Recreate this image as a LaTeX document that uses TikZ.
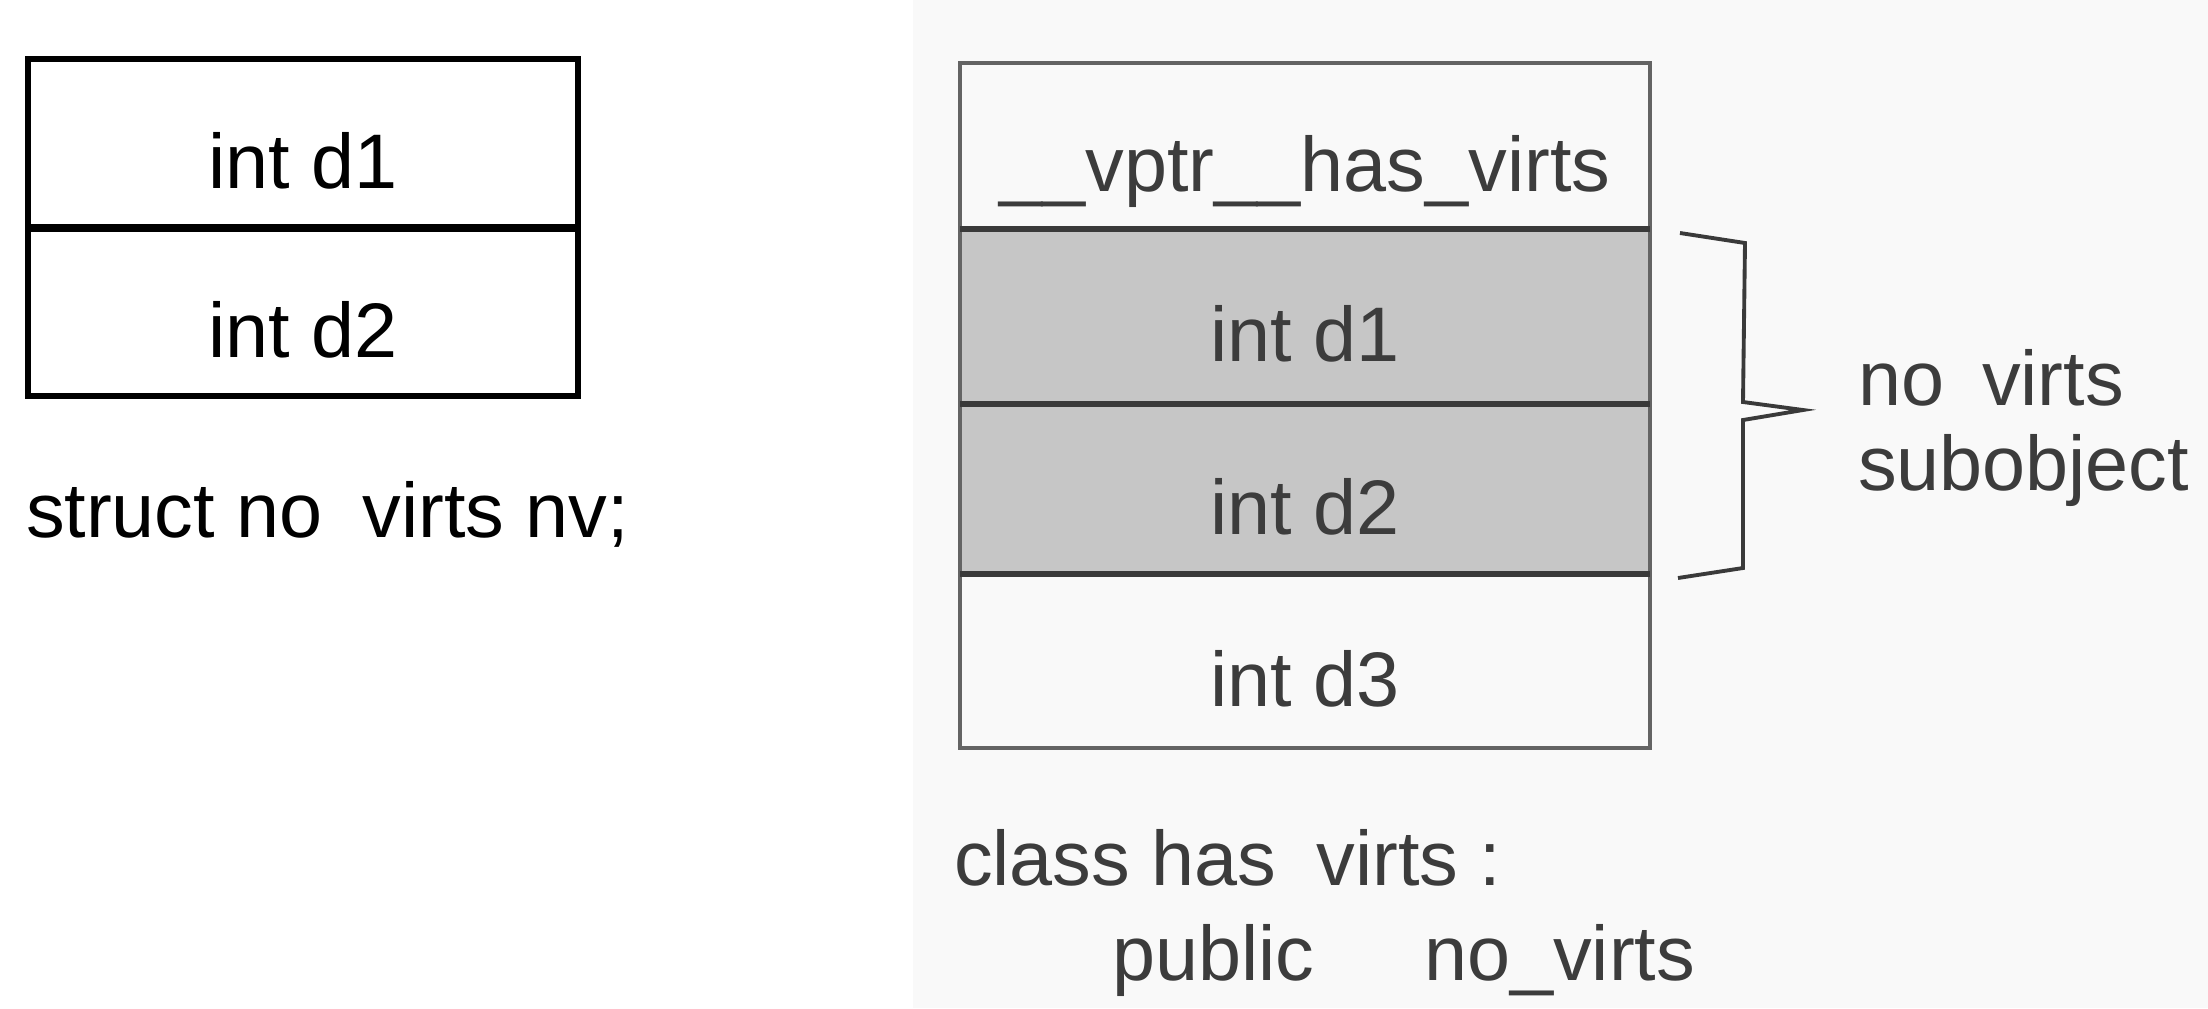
\documentclass[tikz,border=0pt]{standalone}
\usepackage{fontspec}
\setmainfont{Liberation Sans}
\definecolor{panelbg}{RGB}{249,249,249}
\definecolor{scanline}{RGB}{100,100,100}
\definecolor{scandark}{RGB}{58,58,58}
\definecolor{scantext}{RGB}{60,60,60}
\definecolor{shade}{RGB}{198,198,198}
\begin{document}
\begin{tikzpicture}[x=0.01cm, y=-0.01cm,
    every node/.style={font=\fontsize{22}{24}\selectfont, inner sep=0pt, outer sep=0pt},
    cell/.style={text height=0.9cm, text depth=0pt},
    plaincell/.style={cell, minimum width=5.5cm},
    derivcell/.style={cell, minimum width=6.9cm, text=scantext}]
    \useasboundingbox (0,0) rectangle (2208,1008);
    \fill[panelbg] (913,0) rectangle (2208,1008);

    \node[plaincell, minimum height=1.69cm] (nvA) at (303,143.5) {int d1};
    \node[plaincell, minimum height=1.68cm] (nvB) at (303,312) {int d2};
    \draw[line width=1.85pt] (nvA.north west) rectangle (nvB.south east);
    \draw[line width=2.1pt] (nvA.south west) -- (nvA.south east);
    \node[anchor=base west] (nvName) at (26,537) {struct no\hspace{0.4cm}virts nv;};

    \node[derivcell, minimum height=1.66cm] (hvA) at (1305,146) {\_\_vptr\_\_has\_virts};
    \node[derivcell, minimum height=1.75cm, fill=shade] (hvB) at (1305,316.5) {int d1};
    \node[derivcell, minimum height=1.70cm, fill=shade] (hvC) at (1305,489) {int d2};
    \node[derivcell, minimum height=1.74cm] (hvD) at (1305,661) {int d3};
    \draw[scanline, line width=1.15pt] (hvA.north west) rectangle (hvD.south east);
    \foreach \c in {hvA, hvB, hvC}
        \draw[scandark, line width=1.7pt] (\c.south west) -- (\c.south east);

    \draw[scandark, line width=1.1pt, line join=miter]
        (1680,233) -- (1745,243) -- (1743,402) -- (1803,410) -- (1743,420) -- (1743,568) -- (1678,578);
    \node[anchor=base west, text=scantext] (subA) at (1858,405) {no\hspace{0.38cm}virts};
    \node[anchor=base west, text=scantext] (subB) at (1858,490) {subobject};

    \node[anchor=base west, text=scantext] (hvName) at (954,885) {class has\hspace{0.4cm}virts :};
    \node[anchor=base west, text=scantext] (hvBase) at (1112,980) {public\hspace{1.1cm}no\_virts};
\end{tikzpicture}
\end{document}
